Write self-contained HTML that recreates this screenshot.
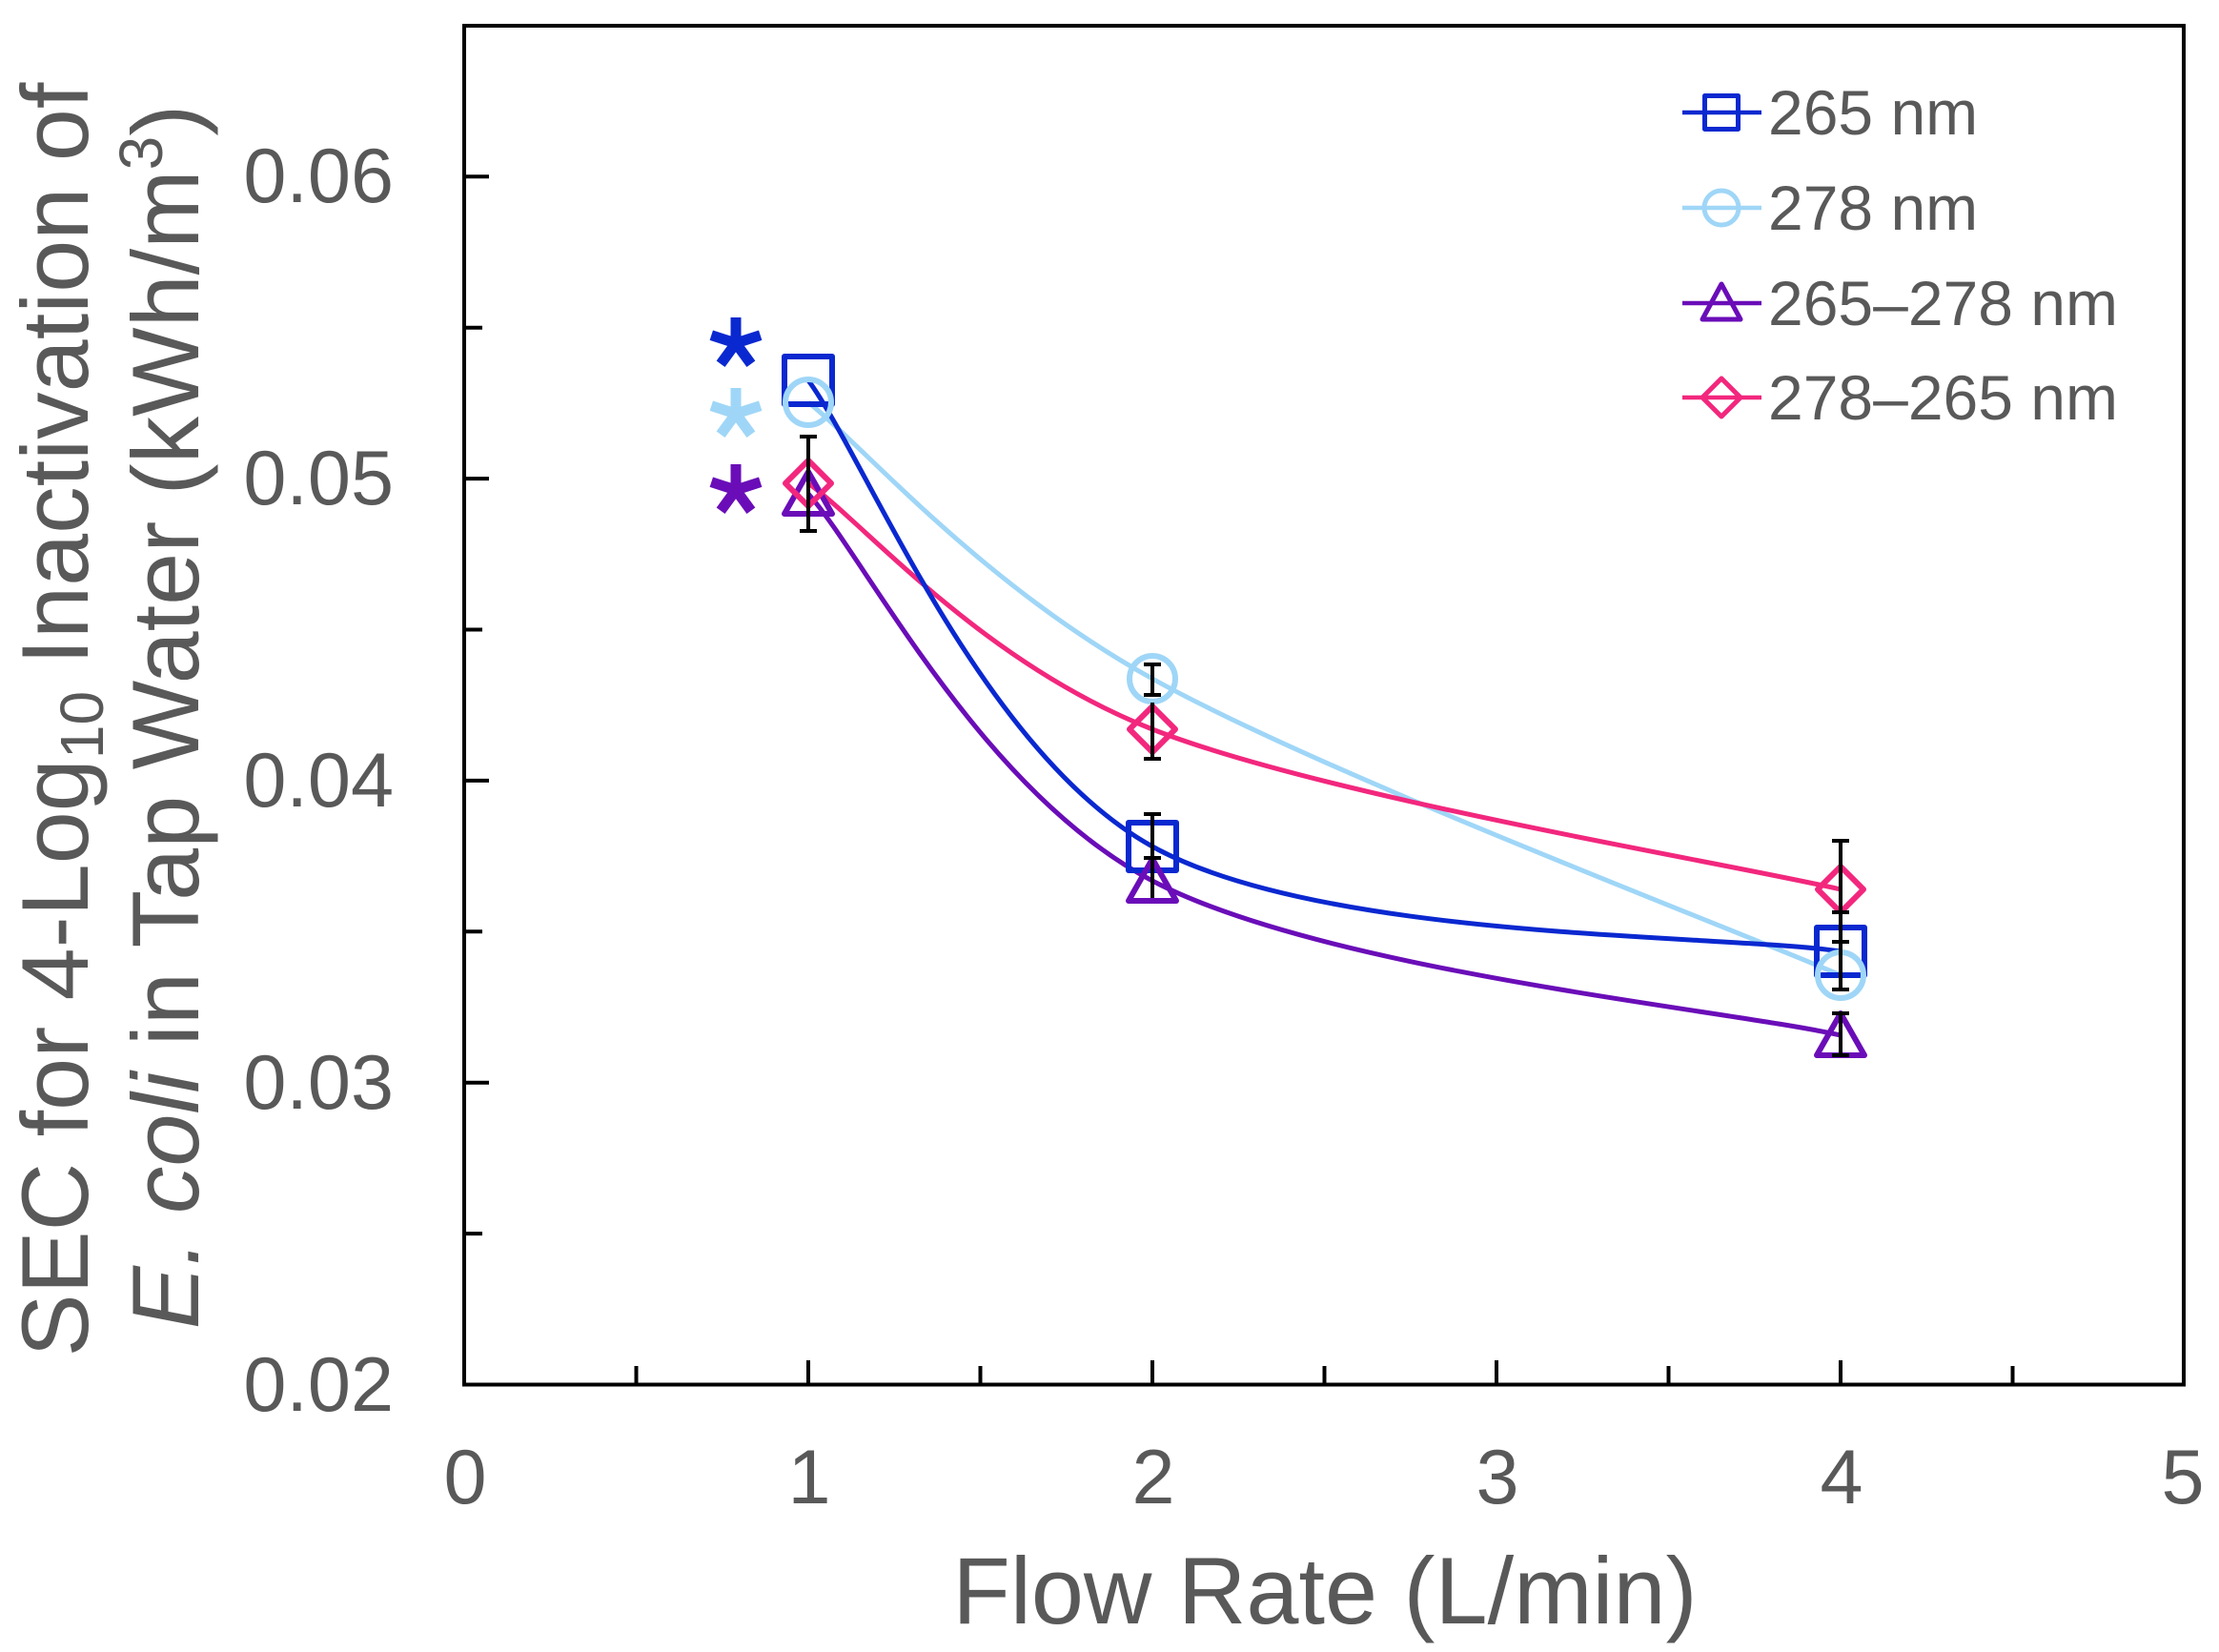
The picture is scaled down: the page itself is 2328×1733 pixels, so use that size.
<!DOCTYPE html>
<html>
<head>
<meta charset="utf-8">
<style>
  html, body { margin: 0; padding: 0; background: #ffffff; }
  svg { display: block; }
  text { font-family: "Liberation Sans", Arial, sans-serif; fill: #595959; }
</style>
</head>
<body>
<svg width="2328" height="1733" viewBox="0 0 2328 1733" xmlns="http://www.w3.org/2000/svg">
  <rect x="0" y="0" width="2328" height="1733" fill="#ffffff"/>

  <!-- Plot frame -->
  <rect x="487" y="27" width="1804" height="1425.5" fill="none" stroke="#000" stroke-width="4"/>

  <!-- Y ticks (inward) -->
  <g stroke="#000" stroke-width="4">
    <line x1="487" y1="185.3" x2="513" y2="185.3"/>
    <line x1="487" y1="502.1" x2="513" y2="502.1"/>
    <line x1="487" y1="818.9" x2="513" y2="818.9"/>
    <line x1="487" y1="1135.7" x2="513" y2="1135.7"/>
    <line x1="487" y1="343.7" x2="506" y2="343.7"/>
    <line x1="487" y1="660.5" x2="506" y2="660.5"/>
    <line x1="487" y1="977.3" x2="506" y2="977.3"/>
    <line x1="487" y1="1294.1" x2="506" y2="1294.1"/>
  </g>
  <!-- X ticks (inward) -->
  <g stroke="#000" stroke-width="4">
    <line x1="848" y1="1452.5" x2="848" y2="1427"/>
    <line x1="1209" y1="1452.5" x2="1209" y2="1427"/>
    <line x1="1570" y1="1452.5" x2="1570" y2="1427"/>
    <line x1="1931" y1="1452.5" x2="1931" y2="1427"/>
    <line x1="667.5" y1="1452.5" x2="667.5" y2="1433"/>
    <line x1="1028.5" y1="1452.5" x2="1028.5" y2="1433"/>
    <line x1="1389.5" y1="1452.5" x2="1389.5" y2="1433"/>
    <line x1="1750.5" y1="1452.5" x2="1750.5" y2="1433"/>
    <line x1="2111.5" y1="1452.5" x2="2111.5" y2="1433"/>
  </g>

  <!-- Y tick labels -->
  <g font-size="81" text-anchor="end">
    <text x="413" y="212">0.06</text>
    <text x="413" y="529">0.05</text>
    <text x="413" y="846">0.04</text>
    <text x="413" y="1163">0.03</text>
    <text x="413" y="1480">0.02</text>
  </g>
  <!-- X tick labels -->
  <g font-size="81" text-anchor="middle">
    <text x="488" y="1577">0</text>
    <text x="849" y="1577">1</text>
    <text x="1210" y="1577">2</text>
    <text x="1571" y="1577">3</text>
    <text x="1932" y="1577">4</text>
    <text x="2290" y="1577">5</text>
  </g>

  <!-- Axis titles -->
  <text x="1390" y="1703" font-size="99" text-anchor="middle">Flow Rate (L/min)</text>
  <text transform="translate(92,755) rotate(-90)" font-size="99" text-anchor="middle">SEC for 4-Log<tspan font-size="64" dy="16">10</tspan><tspan dy="-16"> Inactivation of</tspan></text>
  <text transform="translate(208,752) rotate(-90)" font-size="99" text-anchor="middle"><tspan font-style="italic">E. coli</tspan> in Tap Water (kWh/m<tspan font-size="64" dy="-38">3</tspan><tspan dy="38">)</tspan></text>

  <!-- Series lines (smoothed) -->
  <g fill="none" stroke-width="5">
    <path d="M848,422 C908.2,470.3 1028.5,611.8 1209,712 C1389.5,812.2 1810.7,971.2 1931,1023" stroke="#9fd6f7"/>
    <path d="M848,507 C908.2,550 1028.5,694 1209,765 C1389.5,836 1810.7,905 1931,933" stroke="#f2277d"/>
    <path d="M848,399 C908.2,480.5 1028.5,788.2 1209,888 C1389.5,987.8 1810.7,979.7 1931,998" stroke="#0a28d0"/>
    <path d="M848,518 C908.2,585.7 1028.5,829.3 1209,924 C1389.5,1018.7 1810.7,1059 1931,1086" stroke="#6a0db8"/>
  </g>

  <!-- Markers -->
  <g fill="none" stroke-width="6" stroke-linejoin="round">
    <g stroke="#0a28d0">
      <rect x="823" y="374" width="50" height="50"/>
      <rect x="1184" y="863" width="50" height="50"/>
      <rect x="1906" y="973" width="50" height="50"/>
    </g>
    <g stroke="#9fd6f7">
      <circle cx="848" cy="422" r="24"/>
      <circle cx="1209" cy="712" r="24"/>
      <circle cx="1931" cy="1023" r="24"/>
    </g>
    <g stroke="#6a0db8">
      <path d="M848,495 L873,539 L823,539 Z"/>
      <path d="M1209,901 L1234,945 L1184,945 Z"/>
      <path d="M1931,1063 L1956,1107 L1906,1107 Z"/>
    </g>
    <g stroke="#f2277d">
      <path d="M848,483 L872,507 L848,531 L824,507 Z"/>
      <path d="M1209,741 L1233,765 L1209,789 L1185,765 Z"/>
      <path d="M1931,909 L1955,933 L1931,957 L1907,933 Z"/>
    </g>
  </g>

  <!-- Error bars -->
  <g stroke="#000" stroke-width="4">
    <line x1="848" y1="458" x2="848" y2="557"/>
    <line x1="839" y1="458" x2="857" y2="458"/>
    <line x1="839" y1="557" x2="857" y2="557"/>

    <line x1="1209" y1="697" x2="1209" y2="729"/>
    <line x1="1200" y1="697" x2="1218" y2="697"/>
    <line x1="1200" y1="729" x2="1218" y2="729"/>
    <line x1="1209" y1="737" x2="1209" y2="796"/>
    <line x1="1200" y1="796" x2="1218" y2="796"/>
    <line x1="1209" y1="854" x2="1209" y2="942"/>
    <line x1="1200" y1="854" x2="1218" y2="854"/>
    <line x1="1200" y1="900" x2="1218" y2="900"/>

    <line x1="1931" y1="882" x2="1931" y2="1040"/>
    <line x1="1922" y1="882" x2="1940" y2="882"/>
    <line x1="1922" y1="957" x2="1940" y2="957"/>
    <line x1="1922" y1="988" x2="1940" y2="988"/>
    <line x1="1922" y1="1038" x2="1940" y2="1038"/>
    <line x1="1931" y1="1063" x2="1931" y2="1107"/>
    <line x1="1922" y1="1063" x2="1940" y2="1063"/>
    <line x1="1922" y1="1107" x2="1940" y2="1107"/>
  </g>

  <!-- Asterisks -->
  <g stroke-width="11" stroke-linecap="butt" fill="none">
    <path stroke="#0a28d0" d="M772,360 l0,-27 M772,360 l25.7,-8.3 M772,360 l15.9,21.8 M772,360 l-15.9,21.8 M772,360 l-25.7,-8.3"/>
    <path stroke="#9fd6f7" d="M772,434 l0,-27 M772,434 l25.7,-8.3 M772,434 l15.9,21.8 M772,434 l-15.9,21.8 M772,434 l-25.7,-8.3"/>
    <path stroke="#6a0db8" d="M772,514 l0,-27 M772,514 l25.7,-8.3 M772,514 l15.9,21.8 M772,514 l-15.9,21.8 M772,514 l-25.7,-8.3"/>
  </g>

  <!-- Legend -->
  <g fill="none" stroke-width="4.5">
    <line x1="1765" y1="118" x2="1848" y2="118" stroke="#0a28d0"/>
    <line x1="1765" y1="218" x2="1848" y2="218" stroke="#9fd6f7"/>
    <line x1="1765" y1="318" x2="1848" y2="318" stroke="#6a0db8"/>
    <line x1="1765" y1="417" x2="1848" y2="417" stroke="#f2277d"/>
  </g>
  <g fill="none" stroke-width="5" stroke-linejoin="round">
    <rect x="1788.5" y="100.5" width="35" height="35" stroke="#0a28d0"/>
    <circle cx="1806" cy="218" r="18" stroke="#9fd6f7"/>
    <path d="M1806,298 L1826,335 L1786,335 Z" stroke="#6a0db8"/>
    <path d="M1806,397 L1826,417 L1806,437 L1786,417 Z" stroke="#f2277d"/>
  </g>
  <g font-size="66">
    <text x="1855" y="141">265 nm</text>
    <text x="1855" y="241">278 nm</text>
    <text x="1855" y="341">265–278 nm</text>
    <text x="1855" y="440">278–265 nm</text>
  </g>
</svg>
</body>
</html>
